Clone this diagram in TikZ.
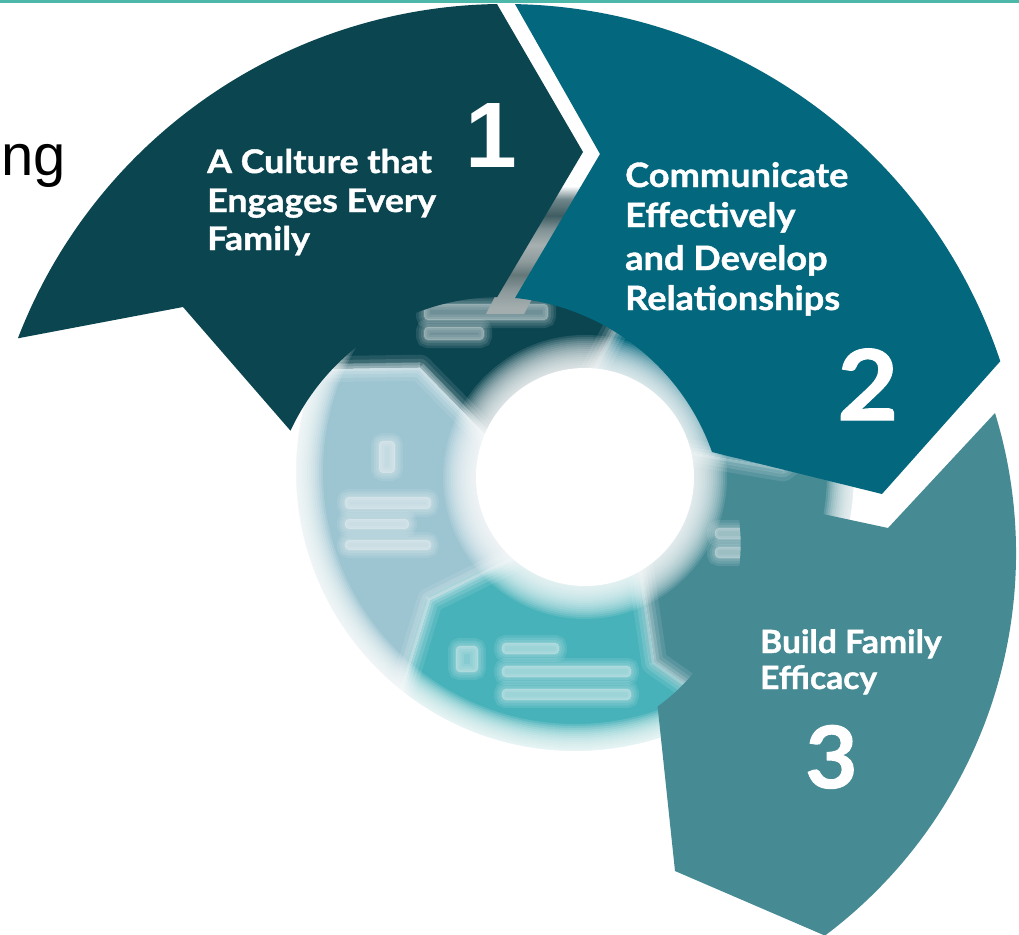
\documentclass[tikz,border=0pt]{standalone}
\usepackage{fontspec}
\setmainfont{Lato}
\newfontfamily\arialfont{Liberation Sans}
\newfontfamily\lblA{Lato}[FakeStretch=1.10, BoldFeatures={FakeBold=1.2}]
\newfontfamily\lblB{Lato}[FakeStretch=1.08, BoldFeatures={FakeBold=1.2}]
\newfontfamily\lblC{Lato}[FakeStretch=1.05, BoldFeatures={FakeBold=1.2}]
\definecolor{cOne}{HTML}{0B4550}
\definecolor{cTwo}{HTML}{03677D}
\definecolor{cThree}{HTML}{468A94}
\definecolor{cFour}{HTML}{47B2B9}
\definecolor{cFive}{HTML}{9CC4D1}
\definecolor{cStripe}{HTML}{4DB8AA}
\definecolor{gA}{HTML}{A3ADAE}
\definecolor{gB}{HTML}{8C999B}
\definecolor{gC}{HTML}{637779}
\definecolor{gD}{HTML}{8D9A9C}
\definecolor{gE}{HTML}{A7B0B1}
\definecolor{gF}{HTML}{7F9194}
\definecolor{gG}{HTML}{3E5D62}
\definecolor{gH}{HTML}{6F868A}
\pgfdeclareverticalshading{gapfade}{100bp}{color(0bp)=(gA); color(27bp)=(gA); color(32bp)=(gB); color(37bp)=(gC); color(41bp)=(gD); color(46bp)=(gE); color(51bp)=(gF); color(55bp)=(gG); color(60bp)=(gH); color(64bp)=(white); color(100bp)=(white)}
\tikzset{
  lbl/.style={text=white, inner sep=0pt, anchor=base west},
  blob/.style={fill=white, fill opacity=0.10, draw=white, draw opacity=0.10, line width=#1, rounded corners=4pt},
}
\newcommand{\softblob}[2]{%
  \foreach \w in {16pt,11pt,6pt,2pt}{\path[blob=\w] #1 rectangle #2;}%
}
\begin{document}
\begin{tikzpicture}[x=1pt,y=-1pt]
\useasboundingbox (0,0) rectangle (1019,934);
\fill[white] (0,0) rectangle (1019,934);

% ---------- blurred small wheel in the middle ----------
\begin{scope}[shift={(585,477)}]
  \foreach \s/\col in {-159/cOne,-87/cTwo,-15/cThree,57/cFour,129/cFive}{
    \pgfmathsetmacro\e{\s+72}
    \fill[\col] (\s:300) arc[start angle=\s, end angle=\e, radius=300] -- (\e+12.5:198) -- (\e:100) arc[start angle=\e, end angle=\s, radius=100] -- (\s+12.5:198) -- cycle;
  }
  \foreach \s/\col in {-159/cOne,-87/cTwo,-15/cThree,57/cFour,129/cFive}{
    \pgfmathsetmacro\e{\s+72}
    \draw[\col, line width=10pt, opacity=0.3, line join=round] (\e+12.5:198) -- (\e:100);
    \draw[\col, line width=10pt, opacity=0.3, line join=round] (\e:300) -- (\e+12.5:198);
  }
  \foreach \m in {-87,-15,57,129,201}{
    \foreach \w/\o in {26pt/0.10,18pt/0.12,11pt/0.16,5pt/0.2}{
      \draw[white, line width=\w, opacity=\o, line join=round] (\m:300) -- (\m+12.5:198) -- (\m:100);
    }
  }
\end{scope}
% blurred text of the small wheel
\softblob{(424,304)}{(548,320)}
\softblob{(424,327)}{(484,340)}
\softblob{(379,441)}{(395,473)}
\softblob{(345,497)}{(431,509)}
\softblob{(345,519)}{(409,529)}
\softblob{(345,540)}{(431,550)}
\softblob{(456,646)}{(478,672)}
\softblob{(502,643)}{(559,654)}
\softblob{(502,666)}{(631,677)}
\softblob{(502,689)}{(631,700)}
\softblob{(715,528)}{(804,539)}
\softblob{(715,547)}{(759,558)}
% soft hole
\foreach \r in {108,110,...,142}{\fill[white, opacity=0.11] (585,477) circle (\r);}
\fill[white] (585,477) circle (109);
% soft outer rim
\foreach \r in {252,254,...,278}{\fill[white, opacity=0.14, even odd rule] (575,472) circle (\r) circle (460);}
\fill[white, even odd rule] (575,472) circle (279) circle (460);
% blurred content seen through the gap between 1 and 2
\shade[shading=gapfade] (570,150) -- (612,150) -- (524,314) -- (486,314) -- cycle;

% ---------- big segments ----------
\fill[cOne] (17.9,338.3) arc[start angle=201.07, end angle=269.12, radius=522] -- (583,152) -- (497.2,297) arc[start angle=-90.7, end angle=-155.1, radius=231] -- (183,307) -- cycle;
\fill[cTwo] (515,4.1) arc[start angle=271.1, end angle=341.6, radius=522] -- (882,494) -- (712,452) arc[start angle=-19.53, end angle=-84.43, radius=233] -- (600,154) -- cycle;
\fill[cThree] (995,413) arc[start angle=-17.05, end angle=53.1, radius=478.2] -- (675,871) -- (657.6,706.5) arc[start angle=54.06, end angle=-14.03, radius=201] -- (888,528) -- cycle;

% top stripe
\fill[cStripe] (0,0) rectangle (1019,3.5);

% ---------- texts ----------
\node[anchor=base west, inner sep=0pt, text=black, font=\arialfont\fontsize{58}{70}\selectfont] (ng) at (1,175) {ng};

\node[lbl, font=\lblA\bfseries\fontsize{32.5}{38}\selectfont] (t1a) at (207,173) {A Culture that};
\node[lbl, font=\lblA\bfseries\fontsize{32.5}{38}\selectfont] (t1b) at (207,212) {Engages Every};
\node[lbl, font=\lblA\bfseries\fontsize{32.5}{38}\selectfont] (t1c) at (207,250) {Family};
\node[lbl, font=\arialfont\bfseries\fontsize{93}{100}\selectfont] (n1) at (465,167) {1};

\node[lbl, font=\lblB\bfseries\fontsize{33.5}{40}\selectfont] (t2a) at (625,187) {Communicate};
\node[lbl, font=\lblB\bfseries\fontsize{33.5}{40}\selectfont] (t2b) at (625,227) {Effectively};
\node[lbl, font=\lblB\bfseries\fontsize{33.5}{40}\selectfont] (t2c) at (625,270) {and Develop};
\node[lbl, font=\lblB\bfseries\fontsize{33.5}{40}\selectfont] (t2d) at (625,310) {Relationships};
\node[lbl, font=\lblB\bfseries\fontsize{97.7}{100}\selectfont] (n2) at (837,420) {2};

\node[lbl, font=\lblC\bfseries\fontsize{32}{38}\selectfont] (t3a) at (760,653) {Build Family};
\node[lbl, font=\lblC\bfseries\fontsize{32}{38}\selectfont] (t3b) at (760,689) {Efficacy};
\node[lbl, font=\lblC\bfseries\fontsize{86}{90}\selectfont] (n3) at (805,788) {3};
\end{tikzpicture}
\end{document}
